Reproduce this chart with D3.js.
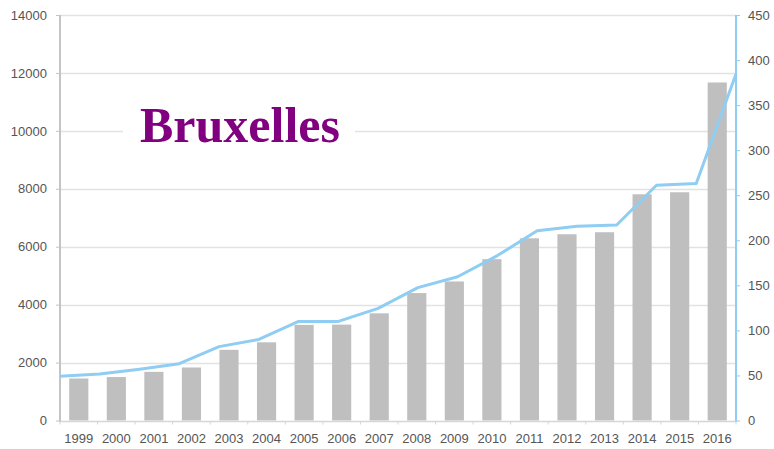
<!DOCTYPE html>
<html>
<head>
<meta charset="utf-8">
<script src="https://cdn.jsdelivr.net/npm/d3@7"></script>
<style>
  html, body { margin: 0; padding: 0; background: #fff; }
  svg { display: block; }
  .tick text { font-family: "Liberation Sans", Arial, sans-serif; font-size: 13px; fill: #555; }
</style>
</head>
<body>
<svg id="chart" width="774" height="449"></svg>
<script>
// Years on the category axis
const years = ["1999","2000","2001","2002","2003","2004","2005","2006","2007","2008",
               "2009","2010","2011","2012","2013","2014","2015","2016"];
// Bars, left axis
const barValues = [1450, 1500, 1680, 1830, 2440, 2700, 3300, 3310, 3700, 4400,
                   4800, 5570, 6290, 6430, 6500, 7810, 7880, 11670];
// Line, right axis
const lineValues = [49, 51.5, 57, 63, 82, 90, 110, 110, 124.5, 147.5,
                    159.5, 183, 210.5, 215.5, 217, 261, 263, 384.5];
// Tick values of both value axes
const leftTicks = [0, 2000, 4000, 6000, 8000, 10000, 12000, 14000];
const rightTicks = [0, 50, 100, 150, 200, 250, 300, 350, 400, 450];
const title = "Bruxelles";

const svg = d3.select("#chart");
const x0 = 60, x1 = 736, yTop = 15, yBot = 420.5;

const xBand = d3.scaleBand().domain(years).range([x0, x1]).paddingInner(0.49).paddingOuter(0.245);
const xPoint = d3.scalePoint().domain(years).range([x0, x1]).padding(0);
const yLeft = d3.scaleLinear().domain([0, 14000]).range([yBot, yTop]);
const yRight = d3.scaleLinear().domain([0, 450]).range([yBot, yTop]);

// Horizontal gridlines
svg.append("g")
  .selectAll("line")
  .data(leftTicks.slice(1))
  .join("line")
  .attr("x1", x0).attr("x2", x1)
  .attr("y1", d => Math.round(yLeft(d)) + 0.5)
  .attr("y2", d => Math.round(yLeft(d)) + 0.5)
  .attr("stroke", "#e2e2e2")
  .attr("stroke-width", 1.5);

// Bars
svg.append("g")
  .selectAll("rect")
  .data(barValues)
  .join("rect")
  .attr("x", (d, i) => xBand(years[i]))
  .attr("width", xBand.bandwidth())
  .attr("y", d => yLeft(d))
  .attr("height", d => yBot - yLeft(d))
  .attr("fill", "#bfbfbf");

// Category axis with ticks on band edges
const xAxisG = svg.append("g").attr("transform", `translate(0,${yBot + 1})`);
xAxisG.append("line")
  .attr("x1", x0).attr("x2", x1).attr("y1", 0).attr("y2", 0)
  .attr("stroke", "#d6d6d6").attr("stroke-width", 1.5);
xAxisG.selectAll("line.edge")
  .data(d3.range(years.length + 1))
  .join("line")
  .attr("class", "edge")
  .attr("x1", i => x0 + i * xBand.step())
  .attr("x2", i => x0 + i * xBand.step())
  .attr("y1", 0).attr("y2", 3)
  .attr("stroke", "#d6d6d6").attr("stroke-width", 1);
const xAxis = d3.axisBottom(xBand).tickSize(0).tickPadding(12);
const xg = svg.append("g").attr("transform", `translate(0,${yBot + 1})`).call(xAxis);
xg.select(".domain").remove();

// Left axis
const leftAxis = d3.axisLeft(yLeft).tickValues(leftTicks).tickFormat(d3.format("d")).tickSize(4).tickPadding(9);
const lg = svg.append("g").attr("transform", `translate(${x0},0)`).call(leftAxis);
lg.select(".domain").attr("stroke", "#c4c4c4").attr("stroke-width", 2).attr("d", `M0,${yTop}V${yBot + 1}`);
lg.selectAll(".tick line").attr("stroke", "#c4c4c4");

// Right axis
const rightAxis = d3.axisRight(yRight).tickValues(rightTicks).tickFormat(d3.format("d")).tickSize(4).tickPadding(8);
const rg = svg.append("g").attr("transform", `translate(${x1},0)`).call(rightAxis);
rg.select(".domain").attr("stroke", "#8fcdf2").attr("stroke-width", 2).attr("d", `M0,${yTop}V${yBot + 1}`);
rg.selectAll(".tick line").attr("stroke", "#8fcdf2");

// Line series
const line = d3.line()
  .x((d, i) => xPoint(years[i]))
  .y(d => yRight(d));
svg.append("path")
  .datum(lineValues)
  .attr("d", line)
  .attr("fill", "none")
  .attr("stroke", "#8fcdf2")
  .attr("stroke-width", 3)
  .attr("stroke-linejoin", "round");

// Title on a white patch
svg.append("rect")
  .attr("x", 123).attr("y", 100).attr("width", 232).attr("height", 55)
  .attr("fill", "#fff");
svg.append("text")
  .attr("x", 140).attr("y", 142)
  .attr("font-family", "'Liberation Serif', 'Times New Roman', serif")
  .attr("font-weight", "bold")
  .attr("font-size", 50)
  .attr("fill", "#800080")
  .text(title);
</script>
</body>
</html>
